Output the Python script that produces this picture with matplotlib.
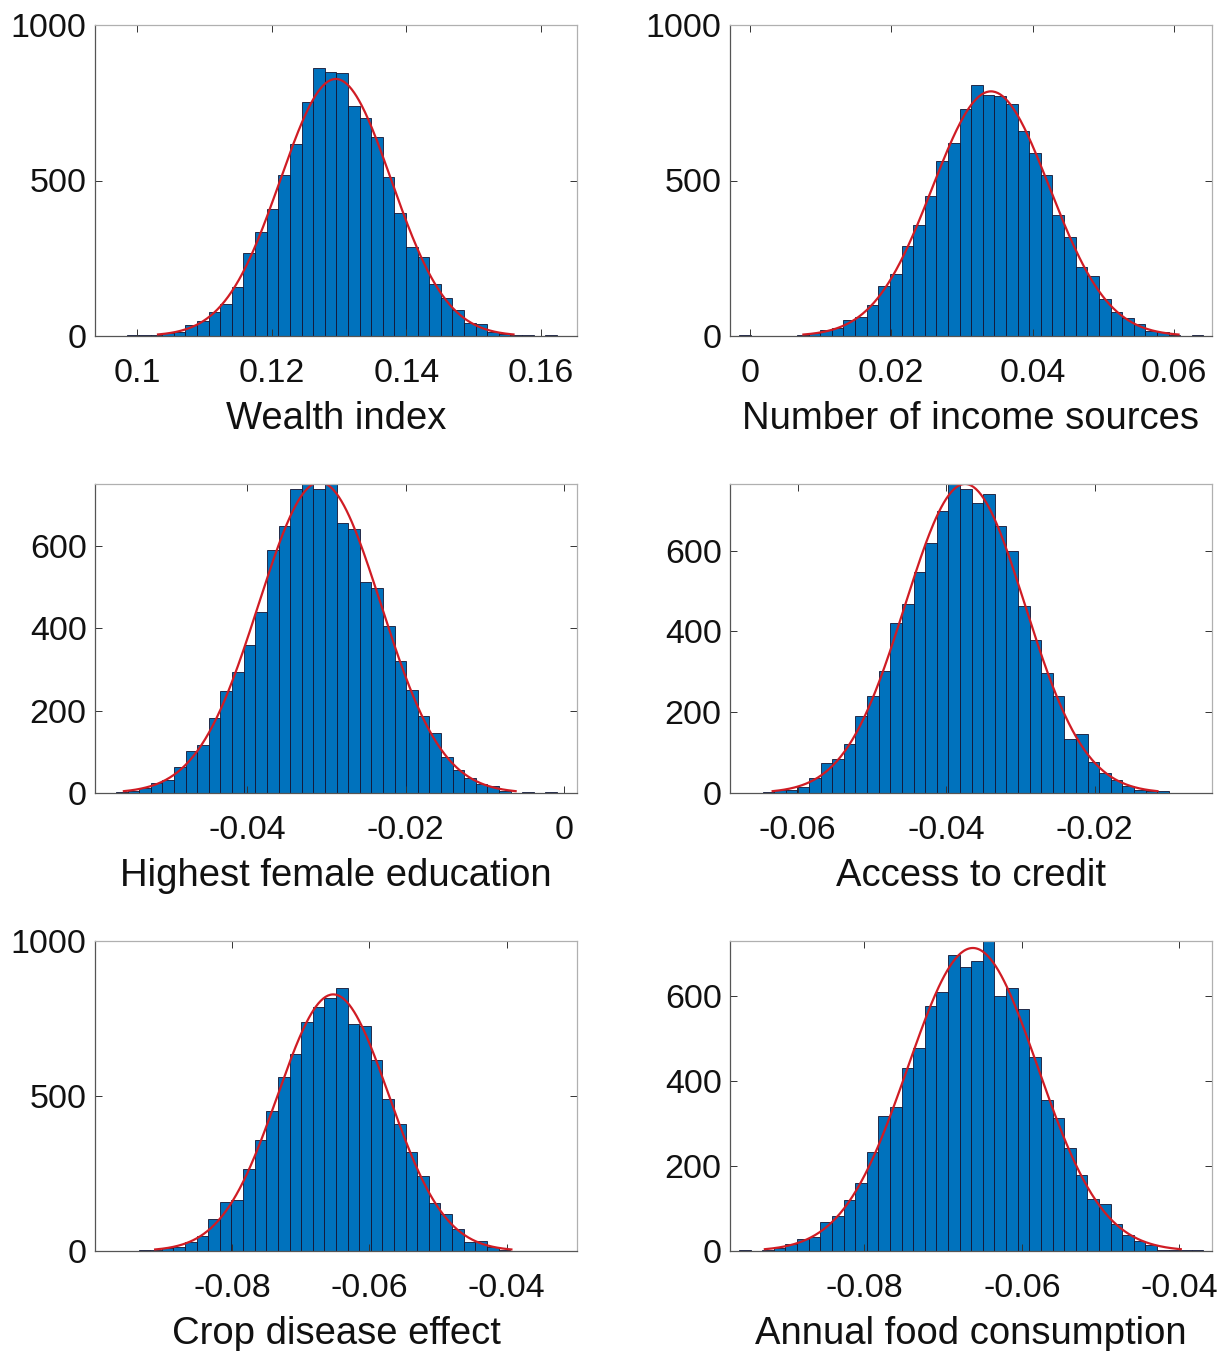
import numpy as np
import matplotlib
matplotlib.use("Agg")
import matplotlib.pyplot as plt

plt.rcParams['font.family'] = ['Liberation Sans', 'DejaVu Sans']
plt.rcParams['axes.unicode_minus'] = False

# bar counts per panel
wealth_counts = [2, 2, 4, 9, 14, 35, 47, 78, 103, 159, 267, 334, 407, 517, 618, 753, 863, 850, 845,
                 740, 700, 639, 511, 394, 285, 253, 168, 121, 84, 43, 37, 14, 6, 4, 4, 0, 2]
income_counts = [2, 0, 0, 0, 0, 4, 10, 19, 25, 52, 62, 99, 162, 200, 288, 357, 449, 562, 619, 731,
                 806, 776, 772, 747, 658, 587, 518, 389, 319, 222, 194, 119, 77, 59, 39, 15, 12, 2, 0, 2]
education_counts = [2, 5, 12, 24, 32, 63, 101, 117, 181, 248, 293, 360, 440, 591, 649, 737, 770, 737, 765,
                    656, 640, 513, 498, 405, 321, 249, 188, 146, 87, 57, 37, 23, 18, 4, 0, 2, 0, 2]
credit_counts = [1, 2, 7, 8, 15, 36, 74, 84, 122, 190, 240, 302, 421, 467, 547, 620, 698, 775, 752, 719,
                 741, 660, 598, 464, 379, 296, 240, 134, 146, 77, 50, 33, 17, 8, 5, 5, 0, 0, 0]
crop_counts = [0, 0, 0, 2, 4, 9, 14, 30, 49, 104, 157, 166, 263, 358, 451, 560, 636, 738, 786, 815,
               847, 732, 725, 617, 489, 409, 320, 241, 155, 119, 71, 30, 32, 14, 2, 0, 0, 0, 0, 0]
food_counts = [2, 0, 2, 6, 16, 28, 34, 68, 83, 119, 160, 233, 317, 339, 431, 479, 576, 611, 698, 668,
               683, 740, 600, 619, 569, 457, 355, 313, 243, 180, 122, 110, 63, 38, 24, 14, 3, 3, 2, 2]

# first bin edge and bin width of each panel
bin_starts = [0.09854, -0.00151, -0.05662, -0.06629, -0.09873, -0.09593]
bin_widths = [0.001725, 0.001642, 0.001468, 0.001564, 0.001693, 0.001475]

labels = ['Wealth index', 'Number of income sources', 'Highest female education',
          'Access to credit', 'Crop disease effect', 'Annual food consumption']
xlims = [(0.09373, 0.16535), (-0.00278, 0.06538), (-0.05928, 0.00169),
         (-0.06912, -0.00418), (-0.1000, -0.02973), (-0.09708, -0.03585)]
ylims = [1000, 1000, 750, 765, 1000, 730]
xticks = [[0.1, 0.12, 0.14, 0.16], [0, 0.02, 0.04, 0.06], [-0.04, -0.02, 0],
          [-0.06, -0.04, -0.02], [-0.08, -0.06, -0.04], [-0.08, -0.06, -0.04]]
yticks = [[0, 500, 1000], [0, 500, 1000], [0, 200, 400, 600],
          [0, 200, 400, 600], [0, 500, 1000], [0, 200, 400, 600]]

all_counts = [wealth_counts, income_counts, education_counts,
              credit_counts, crop_counts, food_counts]

W, H = 1227, 1351
fig = plt.figure(figsize=(W / 100, H / 100), dpi=100)

# axes boxes in pixels: left, top, right, bottom
boxes = [(95, 25, 577, 336), (730, 25, 1212, 336),
         (95, 484, 577, 793), (730, 484, 1212, 793),
         (95, 941, 577, 1251), (730, 941, 1212, 1251)]

for i in range(6):
    l, t, r, b = boxes[i]
    ax = fig.add_axes([l / W, 1 - b / H, (r - l) / W, (b - t) / H])
    counts = np.array(all_counts[i], dtype=float)
    w = bin_widths[i]
    centers = bin_starts[i] + w * (np.arange(len(counts)) + 0.5)
    ax.bar(centers, counts, width=w, color='#0072BD', edgecolor='#141432', linewidth=0.6)

    # normal fit from the histogram
    n = counts.sum()
    mu = (counts * centers).sum() / n
    sd = np.sqrt((counts * (centers - mu) ** 2).sum() / n)
    xs = np.linspace(mu - 3.2 * sd, mu + 3.2 * sd, 300)
    ys = n * w * np.exp(-0.5 * ((xs - mu) / sd) ** 2) / (sd * np.sqrt(2 * np.pi))
    ax.plot(xs, ys, color='#d01c24', lw=1.6)

    ax.set_xlim(*xlims[i])
    ax.set_ylim(0, ylims[i])
    ax.set_xticks(xticks[i])
    ax.set_xticklabels(['%g' % v for v in xticks[i]])
    ax.set_yticks(yticks[i])
    ax.set_yticklabels(['%g' % v for v in yticks[i]])
    ax.tick_params(direction='in', length=5, width=0.7, top=True, right=True,
                   labelsize=24.5, colors='#333333', labelcolor='#111111')
    ax.tick_params(axis='x', pad=16)
    ax.tick_params(axis='y', pad=6)
    for s in ['left', 'bottom']:
        ax.spines[s].set_color('#555555')
        ax.spines[s].set_linewidth(0.9)
    for s in ['top', 'right']:
        ax.spines[s].set_color('#b0b0b0')
        ax.spines[s].set_linewidth(0.9)
    ax.set_xlabel(labels[i], fontsize=27.5, labelpad=8.5, color='#111111')

fig.savefig('out.png', dpi=100, facecolor='white')
